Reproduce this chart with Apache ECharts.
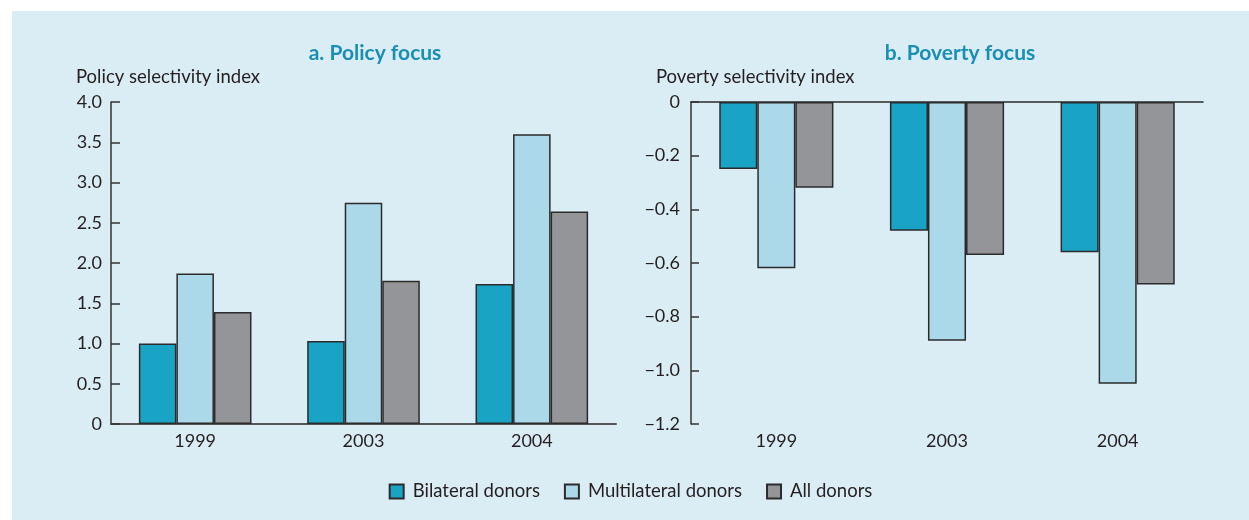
<!DOCTYPE html>
<html>
<head>
<meta charset="utf-8">
<script src="https://cdn.jsdelivr.net/npm/echarts@6/dist/echarts.min.js"></script>
<style>
  body { margin: 0; background: #ffffff; }
  #chart { position: absolute; left: 12px; top: 11px; width: 1237px; height: 509px; }
</style>
</head>
<body>
<div id="chart"></div>
<script>
const years = ['1999', '2003', '2004']
const seriesNames = ['Bilateral donors', 'Multilateral donors', 'All donors']
const policyBilateral = [1.0, 1.03, 1.74]
const policyMultilateral = [1.87, 2.75, 3.60]
const policyAll = [1.39, 1.78, 2.64]
const povertyBilateral = [-0.25, -0.48, -0.56]
const povertyMultilateral = [-0.62, -0.89, -1.05]
const povertyAll = [-0.32, -0.57, -0.68]

const FONT = 'Lato'
const TEXT_COLOR = '#231f20'
const colors = ['#19a4c5', '#acd9e9', '#949599']

const chart = echarts.init(document.getElementById('chart'))

const barSeries = (name, data, idx, axisIdx) => ({
  name: name,
  type: 'bar',
  xAxisIndex: axisIdx,
  yAxisIndex: axisIdx,
  barWidth: '22.3%',
  barGap: '0%',
  itemStyle: { color: colors[idx], borderColor: '#2b2b2b', borderWidth: 1.5 },
  emphasis: { disabled: true },
  data: data
})

const yLabel = {
  fontFamily: FONT,
  fontSize: 18,
  color: TEXT_COLOR,
  margin: 9
}

const option = {
  backgroundColor: '#daedf4',
  animation: false,
  textStyle: { fontFamily: FONT },
  title: [
    { text: 'a. Policy focus', left: 363, top: 32, textAlign: 'center', padding: 0,
      textStyle: { fontFamily: FONT, fontSize: 21, fontWeight: 'bold', color: '#1a8fb3' } },
    { text: 'b. Poverty focus', left: 948, top: 32, textAlign: 'center', padding: 0,
      textStyle: { fontFamily: FONT, fontSize: 21, fontWeight: 'bold', color: '#1a8fb3' } },
    { text: 'Policy selectivity index', left: 64, top: 57, padding: 0,
      textStyle: { fontFamily: FONT, fontSize: 18.5, fontWeight: 'normal', color: TEXT_COLOR } },
    { text: 'Poverty selectivity index', left: 644, top: 57, padding: 0,
      textStyle: { fontFamily: FONT, fontSize: 18.5, fontWeight: 'normal', color: TEXT_COLOR } }
  ],
  legend: {
    data: seriesNames,
    left: 'center',
    top: 466,
    icon: 'rect',
    itemWidth: 14,
    itemHeight: 14,
    itemGap: 24,
    textStyle: { fontFamily: FONT, fontSize: 18.5, color: TEXT_COLOR, padding: [0, 0, 0, 4] }
  },
  grid: [
    { left: 99, top: 91, width: 505, height: 322 },
    { left: 679, top: 91, width: 512, height: 322 }
  ],
  xAxis: [
    {
      type: 'category', gridIndex: 0, data: years,
      axisLine: { lineStyle: { color: '#555555', width: 2 } },
      axisTick: { show: false },
      axisLabel: { fontFamily: FONT, fontSize: 18, color: TEXT_COLOR, margin: 8 }
    },
    {
      type: 'category', gridIndex: 1, data: years, position: 'bottom',
      axisLine: { show: false, onZero: false },
      axisTick: { show: false },
      axisLabel: { fontFamily: FONT, fontSize: 18, color: TEXT_COLOR, margin: 8 }
    },
    {
      type: 'category', gridIndex: 1, data: years, position: 'top',
      axisLine: { onZero: false, lineStyle: { color: '#2b2b2b', width: 1.5 } },
      axisTick: { show: false },
      axisLabel: { show: false }
    }
  ],
  yAxis: [
    {
      type: 'value', gridIndex: 0, min: 0, max: 4, interval: 0.5,
      axisLine: { show: true, lineStyle: { color: '#333333', width: 1.5 } },
      axisTick: { show: true, inside: true, length: 9, lineStyle: { color: '#333333', width: 1.5 } },
      splitLine: { show: false },
      axisLabel: Object.assign({}, yLabel, {
        formatter: v => v === 0 ? '0' : v.toFixed(1)
      })
    },
    {
      type: 'value', gridIndex: 1, min: -1.2, max: 0, interval: 0.2,
      axisLine: { show: true, onZero: false, lineStyle: { color: '#333333', width: 1.5 } },
      axisTick: { show: true, inside: true, length: 8, lineStyle: { color: '#333333', width: 1.5 } },
      splitLine: { show: false },
      axisLabel: Object.assign({}, yLabel, {
        margin: 11,
        formatter: v => Math.abs(v) < 1e-9 ? '0' : '\u2212' + Math.abs(v).toFixed(1)
      })
    }
  ],
  series: [
    barSeries(seriesNames[0], policyBilateral, 0, 0),
    barSeries(seriesNames[1], policyMultilateral, 1, 0),
    barSeries(seriesNames[2], policyAll, 2, 0),
    barSeries(seriesNames[0], povertyBilateral, 0, 1),
    barSeries(seriesNames[1], povertyMultilateral, 1, 1),
    barSeries(seriesNames[2], povertyAll, 2, 1)
  ]
}

chart.setOption(option)
</script>
</body>
</html>
